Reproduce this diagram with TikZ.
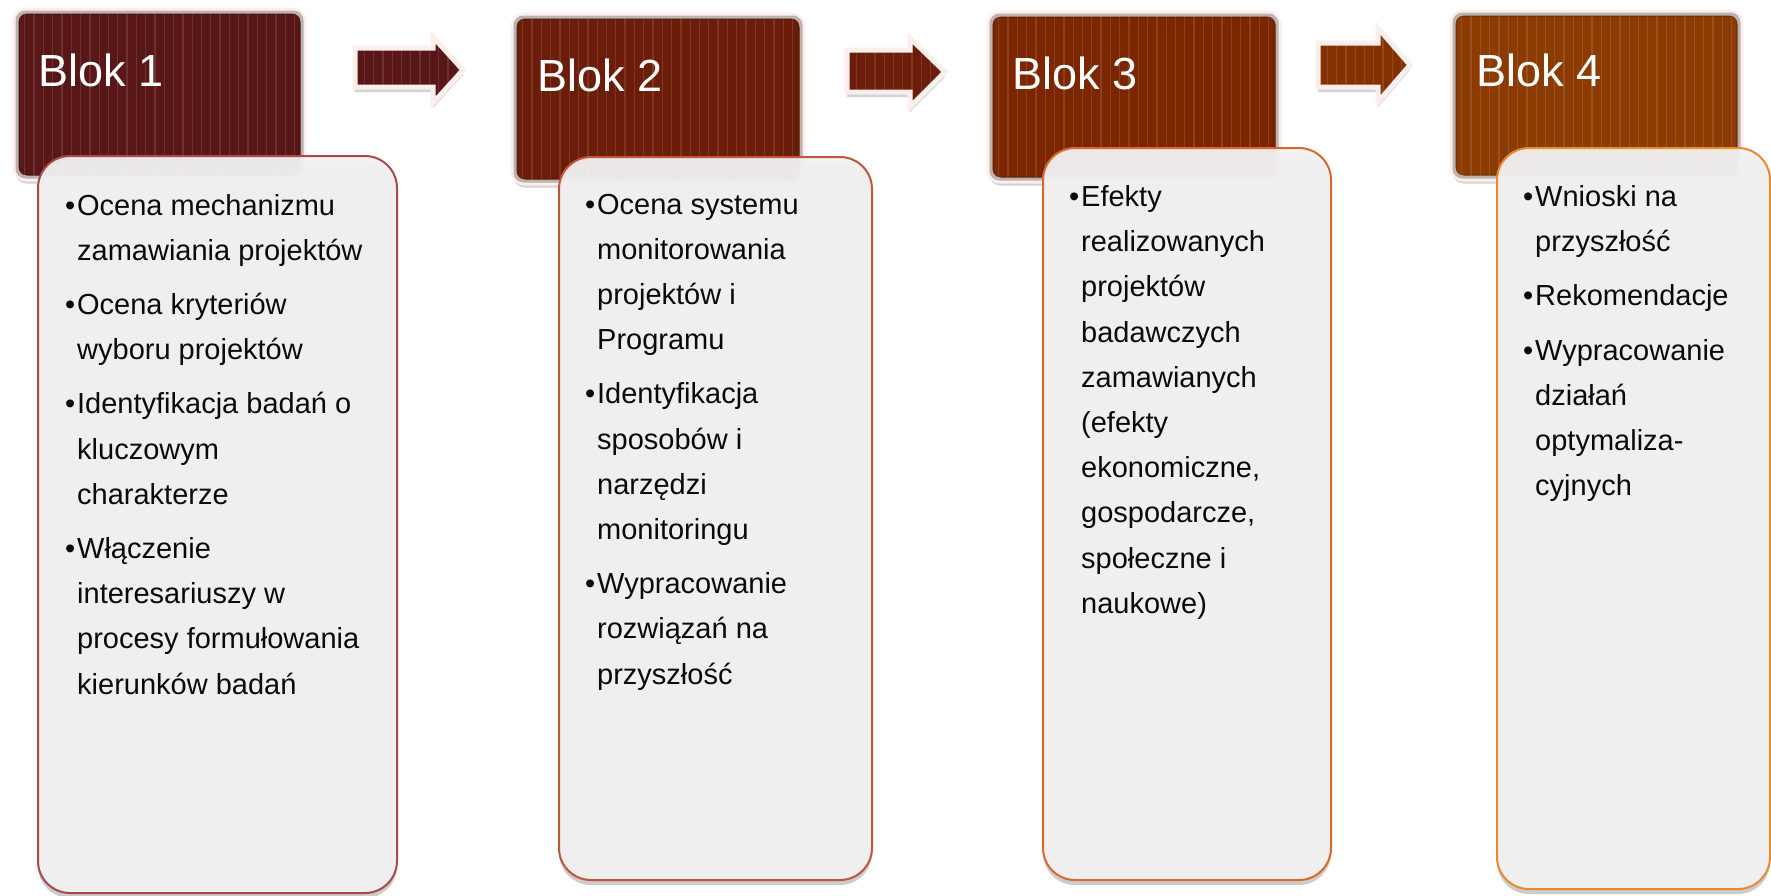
\documentclass[tikz,border=0pt]{standalone}
\usepackage{fontspec}
\setmainfont{Liberation Sans}
\usetikzlibrary{shadows}
\definecolor{h1}{HTML}{581616}
\definecolor{h2}{HTML}{6B1D0A}
\definecolor{h3}{HTML}{7C2600}
\definecolor{h4}{HTML}{8C3B00}
\definecolor{a3}{HTML}{843000}
\definecolor{b1}{HTML}{A84A4A}
\definecolor{b2}{HTML}{C0553A}
\definecolor{b3}{HTML}{D8692E}
\definecolor{b4}{HTML}{E88B2E}
\definecolor{rim}{HTML}{FBEFEC}
\definecolor{boxfill}{HTML}{F2F2F2}
\definecolor{txtc}{HTML}{0A0A0A}
\newcommand\bul{\makebox[12pt][l]{•}}
\newcommand\ind{\hspace*{12pt}}
\tikzset{
  stripes/.style={path picture={
    \foreach \i in {1,...,32}{\draw[white,opacity=0.12,line width=1.3pt]
      ([xshift=\i*9.3pt]path picture bounding box.south west) --
      ([xshift=\i*9.3pt]path picture bounding box.north west);}}},
  hdr/.style={draw=rim,line width=6pt,rounded corners=11pt,stripes,
      inner sep=0pt,anchor=north west,
      drop shadow={shadow xshift=0pt,shadow yshift=-5pt,opacity=0.35}},
  hdrin/.style={draw=black,draw opacity=0.25,line width=4pt,rounded corners=8pt},
  arr/.style={draw=rim,line width=5pt,line join=miter,stripes,
      drop shadow={shadow xshift=0pt,shadow yshift=-5pt,opacity=0.35}},
  cbox/.style={fill=boxfill,fill opacity=0.95,line width=2pt,rounded corners=32pt,
      inner sep=0pt,anchor=north west,
      drop shadow={shadow xshift=0pt,shadow yshift=-5pt,opacity=0.4}},
  ttl/.style={anchor=base west,inner sep=0pt,text=white,font=\fontsize{45}{50}\selectfont},
  txt/.style={anchor=base west,inner sep=0pt,text=txtc,font=\fontsize{29}{45.2}\selectfont},
}
\begin{document}
\begin{tikzpicture}[x=1pt,y=-1pt]
\useasboundingbox (0,0) rectangle (1771,895);
% headers
\node[hdr,fill=h1,minimum width=288pt,minimum height=168pt] (H1) at (12.5,7.5) {};
\node[hdr,fill=h2,minimum width=289pt,minimum height=167pt] (H2) at (510.5,12.5) {};
\node[hdr,fill=h3,minimum width=289pt,minimum height=167pt] (H3) at (986.5,10.5) {};
\node[hdr,fill=h4,minimum width=288pt,minimum height=166pt] (H4) at (1449.5,9.5) {};
\foreach \n in {H1,H2,H3,H4}{
  \draw[hdrin] ([shift={(5pt,-5pt)}]\n.north west) rectangle ([shift={(-5pt,5pt)}]\n.south east);}
% arrows
\path[arr,fill=h1] (355,48) -- (433,48) -- (433,37) -- (463,70) -- (433,103) -- (433,87) -- (355,87) -- cycle;
\path[arr,fill=h2] (847,50) -- (910,50) -- (910,38) -- (945,72) -- (910,107) -- (910,92) -- (847,92) -- cycle;
\path[arr,fill=a3] (1318,43) -- (1378,43) -- (1378,28) -- (1410,65) -- (1378,102) -- (1378,87) -- (1318,87) -- cycle;
% titles
\node[ttl] (T1) at (38,86) {Blok 1};
\node[ttl] (T2) at (537,91) {Blok 2};
\node[ttl] (T3) at (1012,89) {Blok 3};
\node[ttl] (T4) at (1476,86) {Blok 4};
% content boxes
\node[cbox,draw=b1,minimum width=359pt,minimum height=737pt] (C1) at (37,155) {};
\node[cbox,draw=b2,minimum width=313pt,minimum height=723pt] (C2) at (558,156) {};
\node[cbox,draw=b3,minimum width=288pt,minimum height=732pt] (C3) at (1042,147) {};
\node[cbox,draw=b4,minimum width=273pt,minimum height=741pt] (C4) at (1496,147) {};
% texts
\node[txt] (X1) at (65,215) {\parbox[t]{340pt}{\raggedright
\bul Ocena mechanizmu\\ \ind zamawiania projektów\\[9pt]
\bul Ocena kryteriów\\ \ind wyboru projektów\\[9pt]
\bul Identyfikacja badań o\\ \ind kluczowym\\ \ind charakterze\\[9pt]
\bul Włączenie\\ \ind interesariuszy w\\ \ind procesy formułowania\\ \ind kierunków badań}};
\node[txt] (X2) at (585,214) {\parbox[t]{290pt}{\raggedright
\bul Ocena systemu\\ \ind monitorowania\\ \ind projektów i\\ \ind Programu\\[9pt]
\bul Identyfikacja\\ \ind sposobów i\\ \ind narzędzi\\ \ind monitoringu\\[9pt]
\bul Wypracowanie\\ \ind rozwiązań na\\ \ind przyszłość}};
\node[txt] (X3) at (1069,206.5) {\parbox[t]{260pt}{\raggedright
\bul Efekty\\ \ind realizowanych\\ \ind projektów\\ \ind badawczych\\ \ind zamawianych\\ \ind (efekty\\ \ind ekonomiczne,\\ \ind gospodarcze,\\ \ind społeczne i\\ \ind naukowe)}};
\node[txt] (X4) at (1523,206.5) {\parbox[t]{245pt}{\raggedright
\bul Wnioski na\\ \ind przyszłość\\[9pt]
\bul Rekomendacje\\[9pt]
\bul Wypracowanie\\ \ind działań\\ \ind optymaliza-\\ \ind cyjnych}};
\end{tikzpicture}
\end{document}
